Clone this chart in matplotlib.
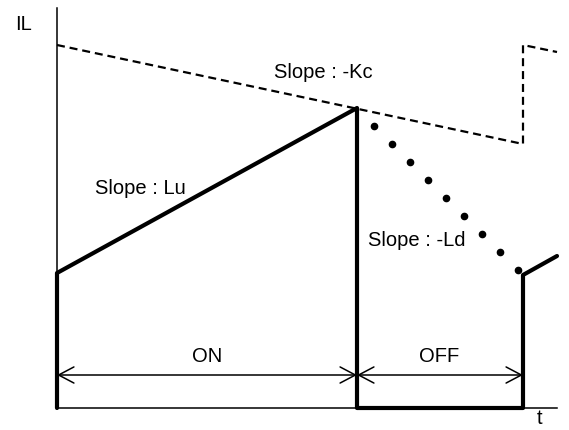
import matplotlib
matplotlib.use("Agg")
import matplotlib.pyplot as plt

plt.rcParams['font.family'] = ['Liberation Sans', 'DejaVu Sans']

# tidspunkter og strømverdier (i bildeenheter, y oppover)
t_ind = [57, 57, 357, 357, 523, 523, 557]
i_ind = [22, 157, 322, 22, 22, 155, 174]

# styrespenning / kompensasjon (stiplet)
t_kc = [57, 523, 523, 557]
i_kc = [385, 286, 385, 378]

# nedgang under OFF (prikker)
t_ld = [374, 392, 410, 428, 446, 464, 482, 500, 518]
i_ld = [304, 286, 268, 250, 232, 214, 196, 178, 160]

# akser
t_akse = [57, 557]
i_akse = [22, 422]
i_dim = 55   # høyde for ON/OFF-pilene

fig = plt.figure(figsize=(5.69, 4.30), dpi=100)
ax = fig.add_axes([0, 0, 1, 1])
ax.set_xlim(0, 569)
ax.set_ylim(0, 430)
ax.axis("off")

ax.plot([t_akse[0], t_akse[0]], i_akse, color="black", lw=1.1)
ax.plot(t_akse, [i_akse[0], i_akse[0]], color="black", lw=1.1)

ax.plot(t_kc, i_kc, color="black", lw=1.6, ls=(0, (3.6, 2.2)))
ax.plot(t_ind, i_ind, color="black", lw=3, solid_joinstyle="round", solid_capstyle="round")
ax.plot(t_ld, i_ld, "o", color="black", ms=4.5)

# ON / OFF dimensjonspiler
pil = dict(arrowstyle="<->,head_length=11,head_width=5.8", color="black", lw=1.1,
           shrinkA=0, shrinkB=0, mutation_scale=1)
ax.annotate("", xy=(t_ind[0], i_dim), xytext=(t_ind[2], i_dim), arrowprops=pil)
ax.annotate("", xy=(t_ind[3], i_dim), xytext=(t_ind[4], i_dim), arrowprops=pil)

fs = 14.5
ax.text(207, 430 - 357, "ON", ha="center", va="center", fontsize=fs)
ax.text(439, 430 - 357, "OFF", ha="center", va="center", fontsize=fs)
ax.text(323, 430 - 73, "Slope : -Kc", ha="center", va="center", fontsize=fs)
ax.text(140, 430 - 189, "Slope : Lu", ha="center", va="center", fontsize=fs)
ax.text(417, 430 - 240, "Slope : -Ld", ha="center", va="center", fontsize=fs)
ax.text(24, 430 - 24, "IL", ha="center", va="center", fontsize=fs)
ax.text(540, 430 - 418, "t", ha="center", va="center", fontsize=fs)

fig.savefig("out.png", dpi=100)
